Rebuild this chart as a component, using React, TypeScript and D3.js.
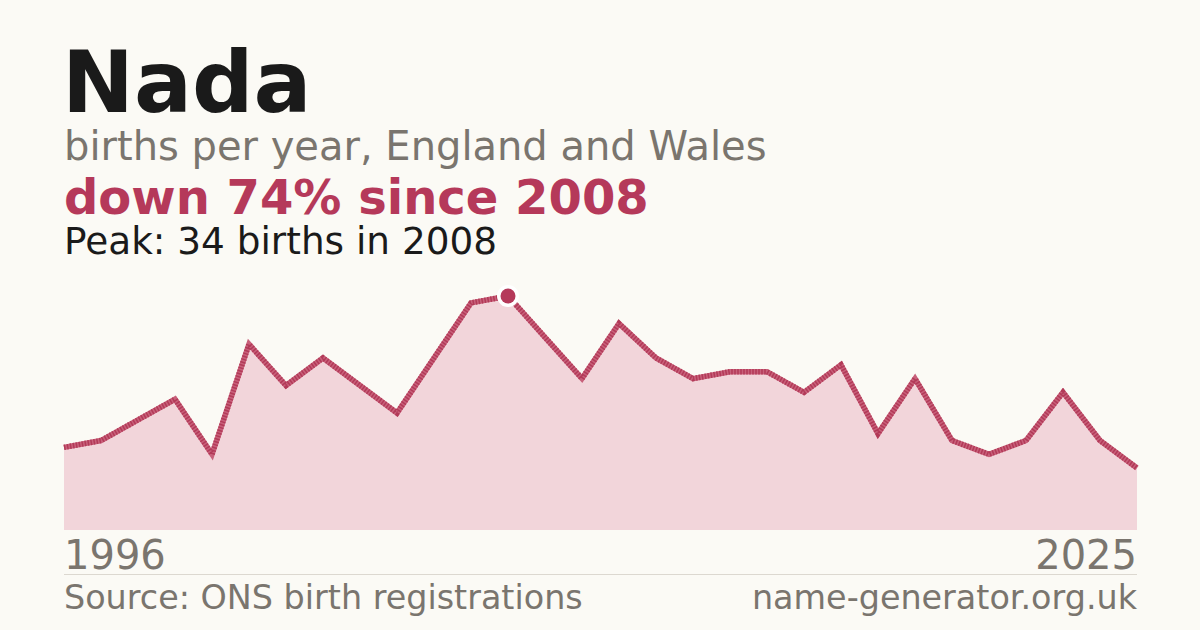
import * as d3 from 'd3';

const years = d3.range(1996, 2026);
const births = [12, 13, 16, 19, 11, 27, 21, 25, 21, 17, 25, 33, 34, 28, 22, 30, 25, 22, 23, 23, 20, 24, 14, 22, 13, 11, 13, 20, 13, 9];

const name = 'Nada';
const subtitle = 'births per year, England and Wales';
const source = 'Source: ONS birth registrations';
const site = 'name-generator.org.uk';

const W = 1200;
const H = 630;
const left = 64;
const right = 1137;
const baseY = 530;
const topY = 296;

const red = '#b5395a';
const grey = '#7a756e';
const font = '"DejaVu Sans", Verdana, sans-serif';

export default function App() {
    const maxVal = d3.max(births) || 0;
    const peakIdx = births.indexOf(maxVal);
    const peakYear = years[peakIdx];
    const last = births[births.length - 1];
    const change = Math.round((1 - last / maxVal) * 100);

    const x = d3.scaleLinear().domain([years[0], years[years.length - 1]]).range([left, right]);
    const y = d3.scaleLinear().domain([0, maxVal]).range([baseY, topY]);

    const pts = years.map((yr, i) => ({ yr, v: births[i] }));
    const area = d3.area<{ yr: number; v: number }>().x((d) => x(d.yr)).y0(baseY).y1((d) => y(d.v))(pts) || '';
    const line = d3.line<{ yr: number; v: number }>().x((d) => x(d.yr)).y((d) => y(d.v))(pts) || '';

    return (
        <svg width={W} height={H} style={{ position: 'absolute', top: 0, left: 0, display: 'block' }} fontFamily={font}>
            <rect width={W} height={H} fill="#fbfaf5" />

            {/* header */}
            <text x={left - 2} y={112} fontSize={86} fontWeight="bold" fill="#1a1a1a">{name}</text>
            <text x={left} y={160} fontSize={40} fill={grey}>{subtitle}</text>
            <text x={left} y={214} fontSize={48} fontWeight="bold" fill={red}>{`down ${change}% since ${peakYear}`}</text>
            <text x={left} y={254} fontSize={37.4} fill="#1a1a1a">{`Peak: ${maxVal} births in ${peakYear}`}</text>

            {/* chart */}
            <path d={area} fill="#f2d5da" />
            <path d={line} fill="none" stroke="#c8607a" strokeWidth={5.5} strokeLinejoin="miter" />
            <path d={line} fill="none" stroke="#b23a58" strokeWidth={5.5} strokeDasharray="1.5 1.5" strokeLinejoin="miter" />
            <circle cx={x(peakYear)} cy={y(maxVal)} r={11} fill="#ffffff" />
            <circle cx={x(peakYear)} cy={y(maxVal)} r={7.5} fill={red} />

            {/* axis labels */}
            <text x={left} y={569} fontSize={40} fill={grey}>{years[0]}</text>
            <text x={right} y={569} fontSize={40} fill={grey} textAnchor="end">{years[years.length - 1]}</text>
            <line x1={left} x2={right} y1={574.5} y2={574.5} stroke="#dcd8d0" strokeWidth={1} />

            {/* footer */}
            <text x={left} y={609} fontSize={33.4} fill={grey}>{source}</text>
            <text x={right} y={609} fontSize={33.4} fill={grey} textAnchor="end">{site}</text>
        </svg>
    );
}
